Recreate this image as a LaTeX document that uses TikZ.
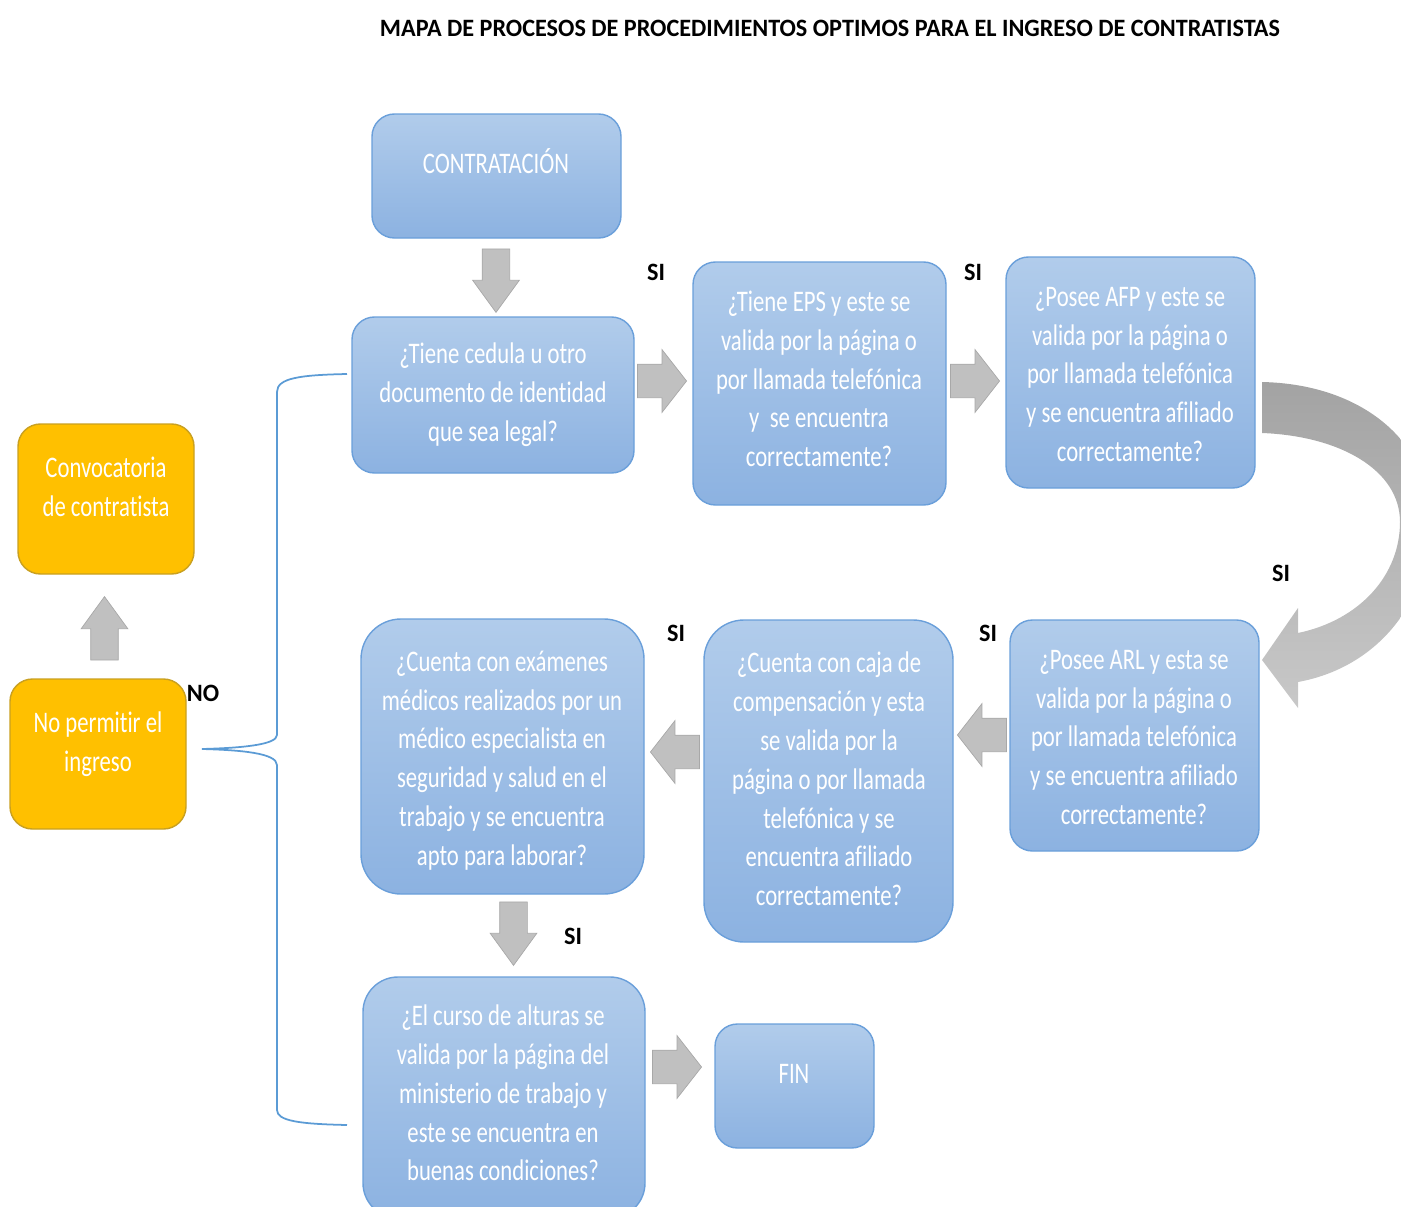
\documentclass[tikz,border=0pt]{standalone}
\usepackage{fontspec}
\setmainfont{Carlito}[FakeStretch=0.76, Ligatures=NoCommon]
\newfontfamily\headfamily{Carlito}[FakeStretch=0.97, Ligatures=NoCommon]
\usepackage{xcolor}
\usetikzlibrary{shapes.arrows,fit}

\definecolor{boxtop}{HTML}{B1CCEB}
\definecolor{boxbot}{HTML}{8CB2E1}
\definecolor{boxline}{HTML}{6A9FDA}
\definecolor{boxyellow}{HTML}{FFC000}
\definecolor{yellowline}{HTML}{C9A020}
\definecolor{arrowgray}{HTML}{C0C0C0}
\definecolor{arrowline}{HTML}{A8A8A8}
\definecolor{curvetop}{HTML}{A3A3A3}
\definecolor{curvebot}{HTML}{C8C8C8}
\definecolor{braceblue}{HTML}{5B9BD5}

\newcommand\boxfont{\fontsize{17}{22.1}\selectfont}
\newcommand\titlefont{\headfamily\fontsize{14.2}{17}\selectfont\bfseries}
\newcommand\answerfont{\headfamily\fontsize{14.2}{17}\selectfont\bfseries}

\begin{document}
\begin{tikzpicture}[x=0.02cm,y=-0.02cm,
    bluebox/.style={draw=boxline, line width=0.8pt, rounded corners=0.45cm, top color=boxtop, bottom color=boxbot, inner sep=0pt},
    yellowbox/.style={draw=yellowline, line width=0.8pt, rounded corners=0.45cm, fill=boxyellow, inner sep=0pt},
    boxtext/.style={text=white, align=center, font=\boxfont},
    harrow/.style={single arrow, draw=arrowline, fill=arrowgray, line width=0.4pt, inner xsep=0pt, inner ysep=0.33cm, minimum height=0.98cm, single arrow head extend=0.29cm, single arrow tip angle=104, anchor=tip},
    varrow/.style={single arrow, draw=arrowline, fill=arrowgray, line width=0.4pt, inner xsep=0pt, inner ysep=0.27cm, minimum height=1.27cm, single arrow head extend=0.19cm, single arrow tip angle=72, anchor=tip},
    answer/.style={font=\answerfont}]

    \useasboundingbox (0,0) rectangle (1401,1207);
    \clip (0,0) rectangle (1401,1207);

    % Title
    \node[font=\titlefont] (title) at (830,28) {MAPA DE PROCESOS DE PROCEDIMIENTOS OPTIMOS PARA EL INGRESO DE CONTRATISTAS};

    % Top row
    \node[bluebox, fit={(372,114) (621,238)}] (contr) {};
    \node[boxtext] (contrtxt) at (496,161.5) {CONTRATACIÓN};
    \node[bluebox, fit={(352,317) (634,473)}] (cedula) {};
    \node[boxtext] (cedulatxt) at (493,395) {¿Tiene cedula u otro\\documento de identidad\\que sea legal?};
    \node[bluebox, fit={(693,262) (946,505)}] (eps) {};
    \node[boxtext] (epstxt) at (819,379) {¿Tiene EPS y este se\\valida por la página o\\por llamada telefónica\\y\ \ se encuentra\\correctamente?};
    \node[bluebox, fit={(1006,257) (1255,488)}] (afp) {};
    \node[boxtext] (afptxt) at (1130,374.5) {¿Posee AFP y este se\\valida por la página o\\por llamada telefónica\\y se encuentra afiliado\\correctamente?};

    % Middle row
    \node[bluebox, fit={(1010,620) (1259,851)}] (arl) {};
    \node[boxtext] (arltxt) at (1134,737.5) {¿Posee ARL y esta se\\valida por la página o\\por llamada telefónica\\y se encuentra afiliado\\correctamente?};
    \node[bluebox, rounded corners=0.8cm, fit={(704,620) (953,942)}] (caja) {};
    \node[boxtext] (cajatxt) at (829,779) {¿Cuenta con caja de\\compensación y esta\\se valida por la\\página o por llamada\\telefónica y se\\encuentra afiliado\\correctamente?};
    \node[bluebox, rounded corners=0.8cm, fit={(361,619) (644,894)}] (examen) {};
    \node[boxtext] (examentxt) at (502,760.5) {¿Cuenta con exámenes\\médicos realizados por un\\médico especialista en\\seguridad y salud en el\\trabajo y se encuentra\\apto para laborar?};

    % Bottom row
    \node[bluebox, rounded corners=0.7cm, fit={(363,977) (645,1218)}] (alturas) {};
    \node[boxtext] (alturastxt) at (503,1093) {¿El curso de alturas se\\valida por la página del\\ministerio de trabajo y\\este se encuentra en\\buenas condiciones?};
    \node[bluebox, fit={(715,1024) (874,1148)}] (fin) {};
    \node[boxtext] (fintxt) at (794,1073.5) {FIN};

    % Rejection
    \node[yellowbox, fit={(18,424) (194,574)}] (convoca) {};
    \node[boxtext] (convocatxt) at (106,487) {Convocatoria\\de contratista};
    \node[yellowbox, fit={(10,679) (186,829)}] (nopermit) {};
    \node[boxtext] (nopermittxt) at (98,744.5) {No permitir el\\ingreso};

    % Block arrows (placed by their tips)
    \node[varrow, rotate=-90] (a1) at (496,313) {};
    \node[harrow] (a2) at (687,381) {};
    \node[harrow] (a3) at (1000,381) {};
    \node[harrow, rotate=180] (a4) at (957,735) {};
    \node[harrow, rotate=180] (a5) at (650,752) {};
    \node[varrow, rotate=-90] (a6) at (513.5,966) {};
    \node[harrow] (a7) at (702,1067) {};
    \node[varrow, rotate=90] (a8) at (104.5,596) {};

    % Curved arrow AFP -> ARL
    \shade[top color=curvetop, bottom color=curvebot]
        (1262,382) .. controls (1360,384) and (1430,440) .. (1430,520)
        .. controls (1430,605) and (1375,668) .. (1298,682)
        -- (1298,708) -- (1262,660) -- (1298,608) -- (1298,633)
        .. controls (1360,620) and (1400,575) .. (1400,522)
        .. controls (1400,470) and (1340,436) .. (1262,433) -- cycle;

    % Answers
    \node[answer] (si1) at (656,272) {SI};
    \node[answer] (si2) at (973,272) {SI};
    \node[answer] (si3) at (1281,573) {SI};
    \node[answer] (si4) at (676,633) {SI};
    \node[answer] (si5) at (988,633) {SI};
    \node[answer] (si6) at (573,936) {SI};
    \node[answer] (no) at (203,693) {NO};

    % Brace NO
    \coordinate (tip) at (202,749);
    \coordinate (btop) at (347,374);
    \coordinate (bbot) at (347,1125);
    \draw[braceblue, line width=1pt] (btop) .. controls (300,375) and (277,378) .. (277,392)
        -- (277,735) .. controls (277,745) and (240,748) .. (tip)
        .. controls (240,750) and (277,753) .. (277,765)
        -- (277,1110) .. controls (277,1121) and (300,1124) .. (bbot);
\end{tikzpicture}
\end{document}
